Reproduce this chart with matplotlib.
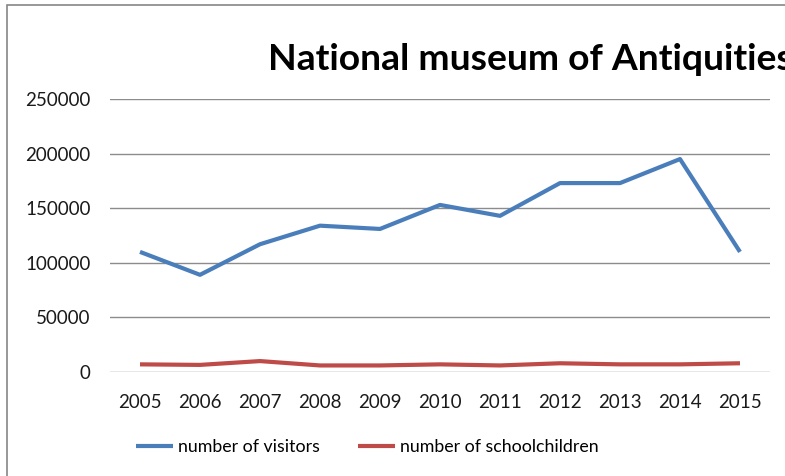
import matplotlib.pyplot as plt
from matplotlib.patches import Rectangle

plt.rcParams['font.family'] = ['Lato', 'DejaVu Sans']

years = ['2005', '2006', '2007', '2008', '2009', '2010',
         '2011', '2012', '2013', '2014', '2015']
visitors = [110000, 89000, 117000, 134000, 131000, 153000,
            143000, 173000, 173000, 195000, 110000]
schoolchildren = [7000, 6500, 10000, 6000, 6000, 7000,
                  6000, 8000, 7000, 7000, 8000]
y_ticks = [0, 50000, 100000, 150000, 200000, 250000]

fig = plt.figure(figsize=(7.85, 4.76), dpi=100)
W, H = 785, 476
ax = fig.add_axes([110 / W, 1 - 372 / H, 660 / W, 273 / H])

x = range(len(years))
ax.plot(x, visitors, color='#4a7ebb', lw=3, solid_capstyle='butt',
        label='number of visitors')
ax.plot(x, schoolchildren, color='#be4b48', lw=3, solid_capstyle='butt',
        label='number of schoolchildren')

ax.set_xlim(-0.5, len(years) - 0.5)
ax.set_ylim(0, 250000)
ax.set_xticks(list(x))
ax.set_xticklabels(years)
ax.set_yticks(y_ticks)
ax.set_yticklabels([str(v) for v in y_ticks])
ax.tick_params(length=0, labelsize=13.5, colors='#1a1a1a')
ax.tick_params(axis='y', pad=14)
ax.tick_params(axis='x', pad=16)
ax.grid(axis='y', color='#8c8c8c', lw=1)
ax.set_axisbelow(True)
for s in ax.spines.values():
    s.set_visible(False)

fig.text(268 / W, 1 - 59 / H, 'National museum of Antiquities',
         fontsize=26.8, fontweight='bold', ha='left', va='center')

fig.legend(loc='center left', bbox_to_anchor=(136 / W, 1 - 447 / H),
           ncol=2, frameon=False, fontsize=12.8, handlelength=2.1,
           handletextpad=0.28, columnspacing=2.1, borderaxespad=0,
           borderpad=0)

# outer chart frame
fig.patches.append(Rectangle((7 / W, -0.1), 1.2, 1 - 5 / H + 0.1,
                             transform=fig.transFigure, fill=False,
                             edgecolor='#868686', lw=1.2))

fig.savefig('out.png', dpi=100)
